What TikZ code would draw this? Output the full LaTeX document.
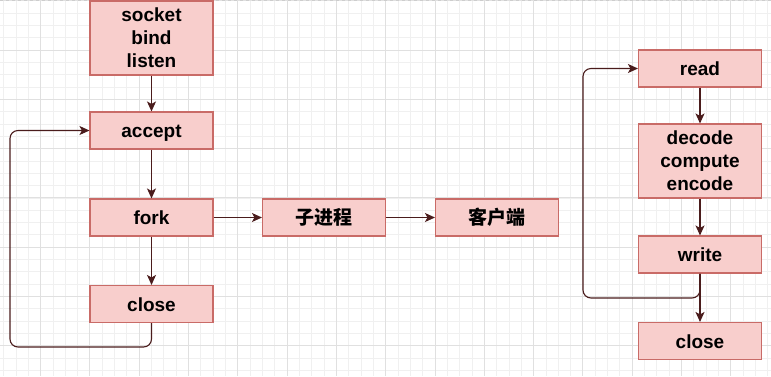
\documentclass[tikz,border=0pt]{standalone}
\usepackage{fontspec}
\setmainfont{Liberation Sans}
\newfontfamily\cjk{Noto Sans CJK SC}
\usetikzlibrary{arrows.meta}
\definecolor{boxfill}{HTML}{F8CECC}
\definecolor{boxline}{HTML}{C96B67}
\definecolor{arrcol}{HTML}{4A1C1C}
\definecolor{gridminor}{HTML}{F0F0F0}
\definecolor{gridmajor}{HTML}{E0E0E0}
\begin{document}
\begin{tikzpicture}[x=1pt,y=-1pt,
  box/.style={draw=boxline, fill=boxfill, line width=1.1pt, minimum width=123pt,
    minimum height=37pt, inner sep=0pt, align=center,
    font=\bfseries\fontsize{19}{23}\selectfont},
  onel/.style={box, text height=14pt, text depth=0pt},
  tall/.style={box, minimum height=74pt},
  conn/.style={draw=arrcol, line width=1.1pt, -{Stealth[length=10pt,width=9pt,inset=2.5pt]}},
  loopline/.style={conn, rounded corners=8pt},
  minorg/.style={draw=gridminor, line width=0.8pt},
  majorg/.style={draw=gridmajor, line width=1pt}]
\useasboundingbox (0,0) rectangle (771,376);
\fill[white] (0,0) rectangle (771,376);
% grid
\foreach \i in {0,...,62} { \draw[minorg] ({3.6+12.325*\i},0) -- ++(0,376); }
\foreach \i in {0,...,30} { \draw[minorg] (0,{0.7+12.325*\i}) -- ++(771,0); }
\foreach \i in {0,...,15} { \draw[majorg] ({40.6+49.3*\i},0) -- ++(0,376); }
\foreach \i in {0,...,7} { \draw[majorg] (0,{0.7+49.3*\i}) -- ++(771,0); }
\draw[gridmajor!80!gray, dashed, line width=0.8pt] (0,0.6) -- (771,0.6);
% nodes
\node[tall] (sock) at (151.5,38) {socket\\bind\\listen};
\node[onel] (accept) at (151.5,130.5) {accept};
\node[onel] (fork) at (151.5,217.5) {fork};
\node[onel] (close1) at (151.5,304) {close};
\node[onel] (child) at (324,217.5) {\cjk 子进程};
\node[onel] (client) at (497,217.5) {\cjk 客户端};
\node[onel] (read) at (700,68.5) {read};
\node[tall] (decode) at (700,161) {decode\\compute\\encode};
\node[onel] (write) at (700,254.5) {write};
\node[onel] (close2) at (700,341) {close};
\coordinate (lb) at (10,347);
\coordinate (rb) at (583,298);
% connectors
\draw[conn] (sock) -- (accept);
\draw[conn] (accept) -- (fork);
\draw[conn] (fork) -- (close1);
\draw[conn] (fork) -- (child);
\draw[conn] (child) -- (client);
\draw[loopline] (close1.south) |- (lb) |- (accept.west);
\draw[conn] (read) -- (decode);
\draw[conn] (decode) -- (write);
\draw[conn] (write) -- (close2);
\draw[loopline] (write.south) |- (rb) |- (read.west);
\end{tikzpicture}
\end{document}
